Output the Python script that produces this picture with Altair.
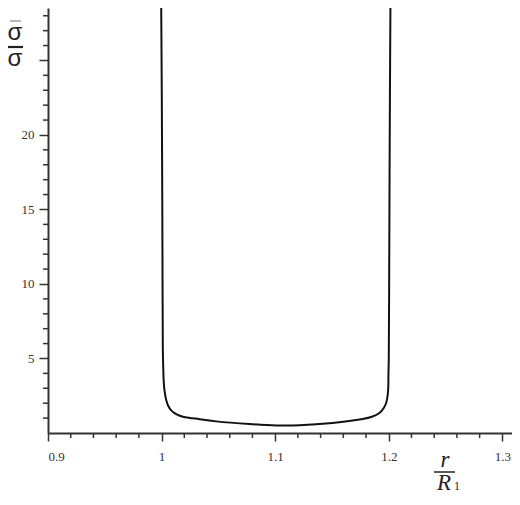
import altair as alt
import pandas as pd

# curve values (x = r/R1, y = sigma ratio)
curve_x = [0.99965, 1.0002, 1.0006, 1.0009, 1.0011, 1.0015, 1.0019, 1.0027, 1.0040, 1.0058,
           1.0083, 1.0114, 1.0149, 1.0187, 1.0246, 1.0334, 1.0481, 1.0774, 1.1009, 1.1214,
           1.1504, 1.1771, 1.1845, 1.1918, 1.1956, 1.1977, 1.1989, 1.1995, 1.1997, 1.2000,
           1.2003, 1.2008, 1.2015, 1.2016]
curve_y = [28.79, 22.37, 15.66, 8.95, 5.59, 4.25, 3.44, 2.77, 2.23, 1.83,
           1.53, 1.33, 1.19, 1.09, 1.01, 0.93, 0.78, 0.60, 0.51, 0.52,
           0.67, 0.94, 1.07, 1.34, 1.68, 2.01, 2.46, 2.91, 3.80, 4.92,
           8.95, 19.0, 29.08, 29.75]

x_major = [0.9, 1.0, 1.1, 1.2, 1.3]
x_minor = [0.92, 0.94, 0.96, 0.98, 1.02, 1.04, 1.06, 1.08, 1.12, 1.14, 1.16, 1.18,
           1.22, 1.24, 1.26, 1.28]
y_major = [5, 10, 15, 20, 25]
y_minor = [1, 2, 3, 4, 6, 7, 8, 9, 11, 12, 13, 14, 16, 17, 18, 19, 21, 22, 23, 24, 26, 27, 28]

W, H = 464, 425
X_DOMAIN = [0.9, 1.3085]
Y_DOMAIN = [0, 28.52]

curve = pd.DataFrame({"x": curve_x, "y": curve_y, "i": list(range(len(curve_x)))})

xs = alt.Scale(domain=X_DOMAIN, nice=False, zero=False)
ys = alt.Scale(domain=Y_DOMAIN, nice=False, zero=False)
xaxis = alt.Axis(values=x_major, format="~g", grid=False, tickSize=8, labelPadding=9)
yaxis = alt.Axis(values=y_major, grid=False, tickSize=9, labelPadding=5,
                 labelExpr="datum.value == 25 ? '' : datum.label")

line = alt.Chart(curve).mark_line(color="#111111", strokeWidth=2, clip=True,
                                  interpolate="catmull-rom").encode(
    x=alt.X("x:Q", scale=xs, title=None, axis=xaxis),
    y=alt.Y("y:Q", scale=ys, title=None, axis=yaxis),
    order="i:Q",
)

xminor = alt.Chart(pd.DataFrame({"x": x_minor})).mark_rule(color="#333333", strokeWidth=1.5).encode(
    x=alt.X("x:Q", scale=xs, title=None, axis=xaxis),
    y=alt.value(H), y2=alt.value(H + 5),
)
yminor = alt.Chart(pd.DataFrame({"y": y_minor})).mark_rule(color="#333333", strokeWidth=1.5).encode(
    y=alt.Y("y:Q", scale=ys, title=None, axis=yaxis),
    x=alt.value(-5), x2=alt.value(0),
)

one = pd.DataFrame({"a": [0]})

def txt(t, x, y, size, font, style="normal", baseline="middle"):
    return alt.Chart(one).mark_text(text=t, font=font, fontSize=size, fontStyle=style,
                                    baseline=baseline, align="center", color="#222222").encode(
        x=alt.value(x), y=alt.value(y))

def bar(x1, x2, y, w=1.5, color="#222222"):
    return alt.Chart(one).mark_rule(color=color, strokeWidth=w).encode(
        x=alt.value(x1), x2=alt.value(x2), y=alt.value(y))

ylab = [
    bar(-38, -27, 13, 1.2, "#888888"),
    txt("σ", -33, 32, 24, "Liberation Sans", "normal", "alphabetic"),
    bar(-40, -25, 39, 2.2),
    txt("σ", -33, 58, 24, "Liberation Sans", "normal", "alphabetic"),
]
xlab = [
    txt("r", 397, 459, 23, "Liberation Serif", "italic", "alphabetic"),
    bar(386, 407, 464, 1.5),
    txt("R", 396, 482, 23, "Liberation Serif", "italic", "alphabetic"),
    txt("1", 409, 482, 12, "Liberation Serif", "normal", "alphabetic"),
]

chart = alt.layer(line, xminor, yminor, *ylab, *xlab).properties(
    width=W, height=H,
    autosize=alt.AutoSizeParams(type="none"),
    padding={"left": 40, "top": 0, "right": 0, "bottom": 62},
).configure_view(stroke=None).configure_axis(
    domainColor="#333333", domainWidth=2, tickColor="#333333", tickWidth=1.5,
    labelFont="Liberation Serif", labelFontSize=13, labelColor="#333333",
)

chart.save("out.html", embed_options={"renderer": "svg", "actions": False})
